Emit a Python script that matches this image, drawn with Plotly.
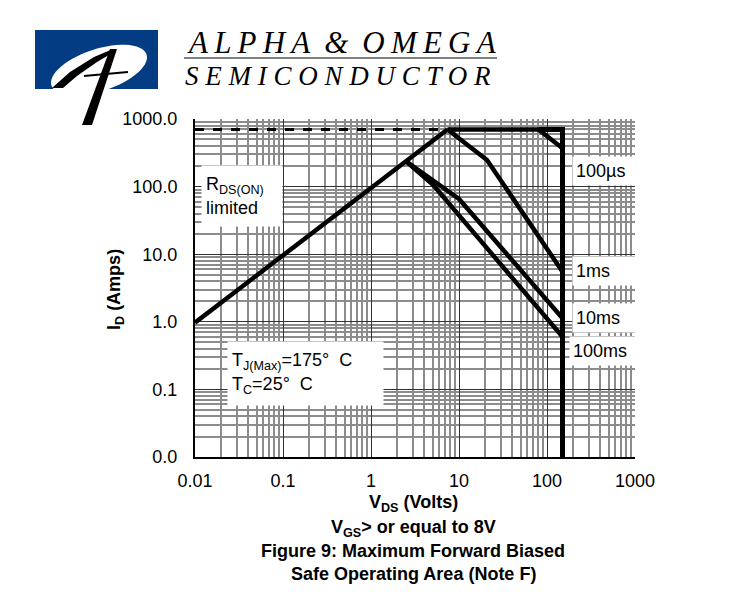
import numpy as np
import plotly.graph_objects as go

# V_DS (V) / I_D (A)
rds_v = [0.01, 7.4]
rds_i = [0.97, 700]
limit_v = [0.01, 7.4]
limit_i = [700, 700]
us100_v = [7.4, 80, 150]
us100_i = [700, 700, 370]
ms1_v = [7.4, 20.8, 150]
ms1_i = [700, 247, 5.5]
ms10_v = [2.5, 10, 150]
ms10_i = [237, 65.6, 1.13]
ms100_v = [2.5, 5.07, 150]
ms100_i = [237, 106, 0.6]
edge_v = [80, 150, 150]
edge_i = [700, 700, 0.01]

x_ticks = [0.01, 0.1, 1, 10, 100, 1000]
x_labels = ["0.01", "0.1", "1", "10", "100", "1000"]
y_ticks = [0.01, 0.1, 1, 10, 100, 1000]
y_labels = ["0.0", "0.1", "1.0", "10.0", "100.0", "1000.0"]

curve_labels = ["100\u00b5s", "1ms", "10ms", "100ms"]
curve_label_px = [572, 572, 572, 569]
curve_label_py = [171, 271, 318, 351]

# layout geometry (pixels in the 750x600 window); page body has an 8px margin
L, R, T, B = 195, 635, 119, 457
OFF = 8


def px(x, y):
    return (x - L) / (R - L), (B - y) / (B - T)


def path(points, close=True):
    s = ""
    for k, (x, y) in enumerate(points):
        xp, yp = px(x, y)
        s += ("M" if k == 0 else "L") + f"{xp:.4f},{yp:.4f} "
    return s + ("Z" if close else "")


minor = [m * 10.0**d for d in range(-2, 3) for m in range(2, 10)]

fig = go.Figure()
line = dict(color="black", width=4.5)
fig.add_trace(go.Scatter(x=limit_v, y=limit_i, mode="lines",
                         line=dict(color="black", width=3, dash="dash")))
for xs, ys in [(rds_v, rds_i), (us100_v, us100_i), (ms1_v, ms1_i),
               (ms10_v, ms10_i), (ms100_v, ms100_i)]:
    fig.add_trace(go.Scatter(x=xs, y=ys, mode="lines", line=line))
fig.add_trace(go.Scatter(x=edge_v, y=edge_i, mode="lines",
                         line=dict(color="black", width=5)))

axis = dict(type="log", range=[-2, 3], showgrid=True, gridcolor="#333333",
            gridwidth=1, zeroline=False, ticks="",
            tickfont=dict(family="Liberation Sans", size=18, color="black"),
            minor=dict(tickvals=minor, showgrid=True, gridcolor="#8c8c8c",
                       gridwidth=1.5, ticks=""),
            showline=True, linecolor="black", linewidth=2, mirror=False)
fig.update_xaxes(**axis, tickvals=x_ticks, ticktext=x_labels, ticklabelstandoff=6)
fig.update_yaxes(**axis, tickvals=y_ticks, ticktext=y_labels, ticklabelstandoff=12)

ann = []
txt = dict(family="Liberation Sans", size=18, color="black")

# in-plot boxed notes
x, y = px(242, 196)
ann.append(dict(text="R<sub>DS(ON)</sub><br>limited", x=x, y=y, align="left",
                width=72, height=52, borderpad=4, bgcolor="white", font=txt))
x, y = px(305, 373)
ann.append(dict(text="T<sub>J(Max)</sub>=175\u00b0  C<br>T<sub>C</sub>=25\u00b0  C", x=x, y=y,
                align="left", width=147, height=55, borderpad=4, bgcolor="white", font=txt))
for lab, xx, yy in zip(curve_labels, curve_label_px, curve_label_py):
    x, y = px(xx, yy)
    ann.append(dict(text=lab, x=x, y=y, xanchor="left", align="left", width=635 - xx - 6,
                    height=22, borderpad=3, bgcolor="white", font=txt))

# axis titles and caption
bold = dict(family="Liberation Sans", size=18, color="black", weight="bold")
x, y = px(115, 290)
ann.append(dict(text="I<sub>D</sub> (Amps)", x=x, y=y, textangle=-90, font=bold))
for s, yy in [("V<sub>DS</sub> (Volts)", 503), ("V<sub>GS</sub>> or equal to 8V", 528),
              ("Figure 9: Maximum Forward Biased", 551), ("Safe Operating Area (Note F)", 574)]:
    x, y = px(413, yy)
    ann.append(dict(text=s, x=x, y=y, font=bold))

# header text
serif = dict(family="Liberation Serif", color="black", style="italic")
x, y = px(342, 42)
ann.append(dict(text="A\u2009L\u2009P\u2009H\u2009A\u2009 &amp;\u2009 O\u2009M\u2009E\u2009G\u2009A", x=x, y=y,
                font=dict(size=31, **serif)))
x, y = px(338, 76)
ann.append(dict(text="S E M I C O N D U C T O R", x=x, y=y, font=dict(size=27, **serif)))

for a in ann:
    a.setdefault("xref", "paper")
    a.setdefault("yref", "paper")
    a.setdefault("showarrow", False)
    a.setdefault("xanchor", "center")
    a.setdefault("yanchor", "middle")
fig.update_layout(annotations=ann)

# logo
t = np.linspace(0, 2 * np.pi, 60)
ang = np.deg2rad(-18)
ex = 99 + 50 * np.cos(t) * np.cos(ang) - 21 * np.sin(t) * np.sin(ang)
ey = 70 + 50 * np.cos(t) * np.sin(ang) + 21 * np.sin(t) * np.cos(ang)
x0, y0 = px(35, 89)
x1, y1 = px(158, 30)
shapes = [
    dict(type="rect", x0=x0, x1=x1, y0=y0, y1=y1, fillcolor="#033c82", line=dict(width=0)),
    dict(type="path", path=path(zip(ex, ey)), fillcolor="white", line=dict(width=0)),
    dict(type="path", path=path([(110, 49), (117, 49), (92, 125), (82, 125)]),
         fillcolor="black", line=dict(width=0)),
    dict(type="path", path=path([(52, 88), (70, 72), (94, 57), (113, 49), (114, 52),
                                 (97, 62), (77, 76), (63, 88)]),
         fillcolor="black", line=dict(width=0)),
    dict(type="path", path=path([(84, 76), (128, 72)], close=False),
         line=dict(color="black", width=2)),
]
x0, y0 = px(184, 58)
x1, _ = px(497, 58)
shapes.append(dict(type="line", x0=x0, x1=x1, y0=y0, y1=y0, line=dict(color="black", width=1.2)))
for s in shapes:
    s.setdefault("xref", "paper")
    s.setdefault("yref", "paper")

fig.update_layout(
    shapes=shapes,
    width=750 - OFF, height=600 - OFF,
    margin=dict(l=L - OFF, r=750 - R, t=T - OFF, b=600 - B),
    paper_bgcolor="white", plot_bgcolor="white",
    showlegend=False,
)

fig.write_html("out.html")
